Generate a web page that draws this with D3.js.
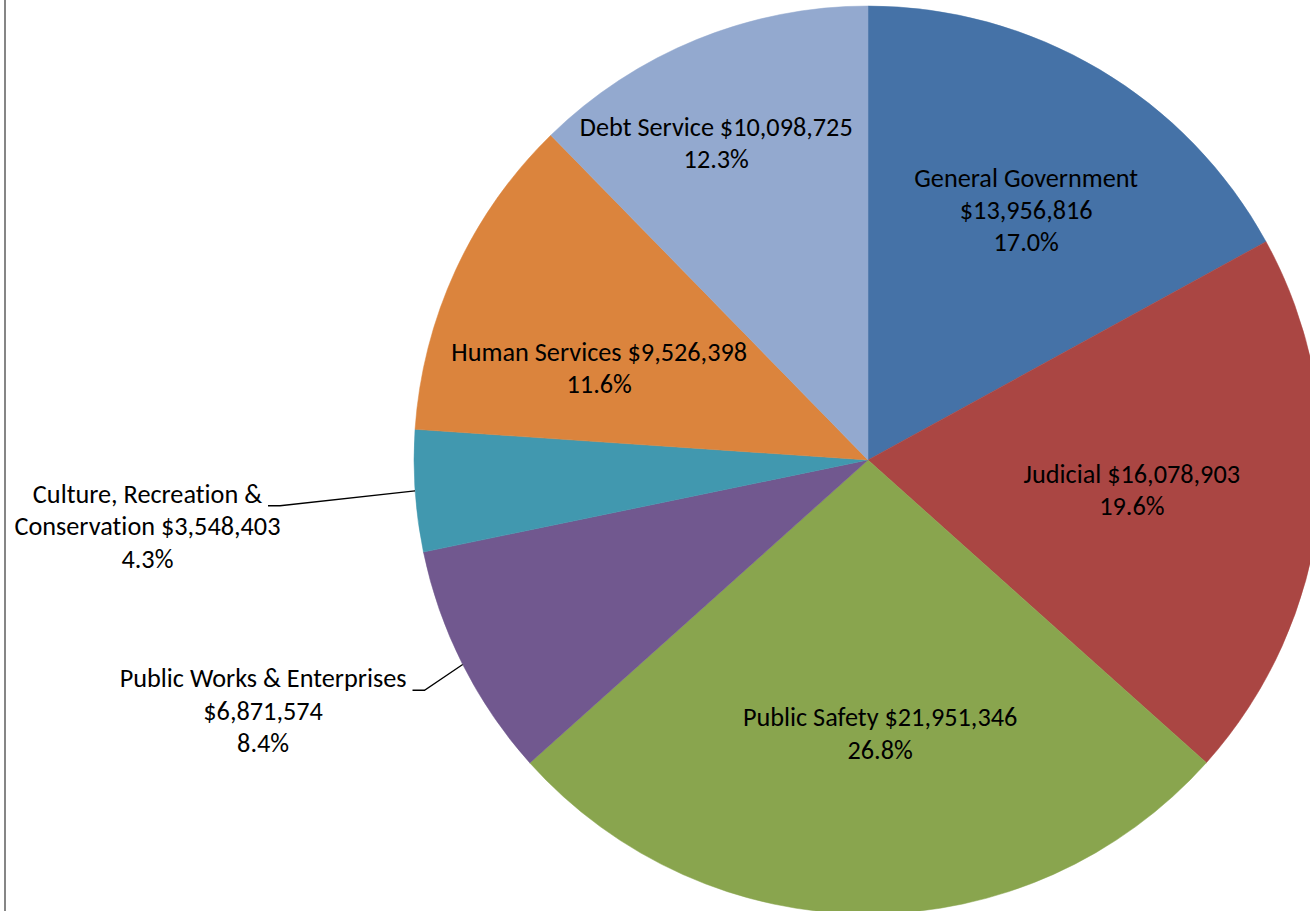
<!DOCTYPE html>
<html>
<head>
<meta charset="utf-8">
<script src="https://cdn.jsdelivr.net/npm/d3@7"></script>
<style>
  html, body { margin: 0; padding: 0; background: #fff; }
  svg { display: block; }
  text { font-variant-ligatures: none; font-feature-settings: "liga" 0, "clig" 0; }
</style>
</head>
<body>
<svg id="chart" width="1310" height="911"></svg>
<script>
// ---- data ----
const categories = [
  "General Government",
  "Judicial",
  "Public Safety",
  "Public Works & Enterprises",
  "Culture, Recreation & Conservation",
  "Human Services",
  "Debt Service"
];
const values = [13956816, 16078903, 21951346, 6871574, 3548403, 9526398, 10098725];
const colors = ["#4572A7", "#AA4643", "#89A54E", "#71588F", "#4198AF", "#DB843D", "#93A9CF"];
// label line templates ("|" = line break)
const labelTemplates = [
  "{name}|{value}|{pct}",
  "{name} {value}|{pct}",
  "{name} {value}|{pct}",
  "{name}|{value}|{pct}",
  "Culture, Recreation &|Conservation {value}|{pct}",
  "{name} {value}|{pct}",
  "{name} {value}|{pct}"
];
// label placement: radius as fraction of pie radius, angle offset in degrees from slice mid-angle
const labelRadius = [0.650, 0.585, 0.605, 1.443, 1.594, 0.625, 0.772];
const labelAngleOffset = [1.8, 0.1, -2.5, 4.2, -1.4, -6.1, -3.5];
const hasLeader = [false, false, false, true, true, false, false];

// ---- layout ----
const W = 1310, H = 911;
const cx = 868, cy = 460, R = 454;
const lineH = 32.4;
const fontFamily = "Carlito, Calibri, Lato, 'Open Sans', sans-serif";

const svg = d3.select("#chart");

// left border line
svg.append("line")
  .attr("x1", 5).attr("x2", 5).attr("y1", 0).attr("y2", H)
  .attr("stroke", "#868686").attr("stroke-width", 2);

// fit font size so that a reference label matches the target width
const probe = svg.append("text").attr("font-family", fontFamily).attr("font-size", 26)
  .text("Debt Service $10,098,725");
const w26 = probe.node().getComputedTextLength();
probe.remove();
const fs = 26 * 273 / w26;
const capOff = fs * 0.31;

const total = d3.sum(values);
const data = categories.map((c, i) => ({ name: c, value: values[i], i }));
const pie = d3.pie().value(d => d.value).sort(null).startAngle(0).endAngle(2 * Math.PI);
const arcs = pie(data);
const arc = d3.arc().innerRadius(0).outerRadius(R);

const g = svg.append("g").attr("transform", `translate(${cx},${cy})`);
g.selectAll("path.slice").data(arcs).enter().append("path")
  .attr("class", "slice")
  .attr("d", arc)
  .attr("fill", d => colors[d.data.i])
  .attr("stroke", d => colors[d.data.i])
  .attr("stroke-width", 0.5);

const fmtVal = v => "$" + d3.format(",")(v);
const fmtPct = d3.format(".1%");
const polar = (a, r) => [r * Math.sin(a), -r * Math.cos(a)];

arcs.forEach(d => {
  const i = d.data.i;
  const mid = (d.startAngle + d.endAngle) / 2;
  const a = mid + labelAngleOffset[i] * Math.PI / 180;
  const [lx, ly] = polar(a, labelRadius[i] * R);
  const lines = labelTemplates[i]
    .replace("{name}", d.data.name)
    .replace("{value}", fmtVal(d.data.value))
    .replace("{pct}", fmtPct(d.data.value / total))
    .split("|");
  const n = lines.length;
  const t = g.append("text")
    .attr("font-family", fontFamily)
    .attr("font-size", fs)
    .attr("fill", "#000")
    .attr("text-anchor", "middle");
  const tspans = [];
  lines.forEach((ln, k) => {
    const ts = t.append("tspan")
      .attr("x", lx)
      .attr("y", ly + (k - (n - 1) / 2) * lineH + capOff)
      .text(ln);
    tspans.push(ts);
  });
  if (hasLeader[i]) {
    const w0 = tspans[0].node().getComputedTextLength();
    const sx = lx + w0 / 2 + 6;
    const sy = ly + (0 - (n - 1) / 2) * lineH + capOff + 3;
    const [ex, ey] = polar(mid, R);
    const path = d3.path();
    path.moveTo(sx, sy);
    path.lineTo(sx + 12, sy);
    path.lineTo(ex, ey);
    g.append("path").attr("d", path.toString())
      .attr("fill", "none").attr("stroke", "#000").attr("stroke-width", 1.3);
  }
});
</script>
</body>
</html>
